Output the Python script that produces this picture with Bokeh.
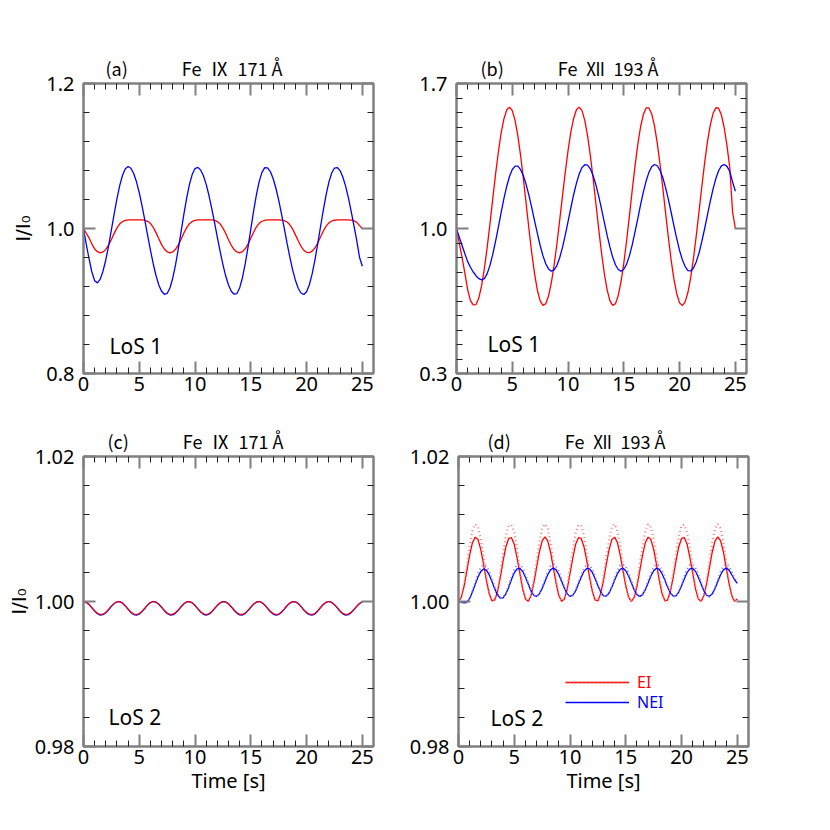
from bokeh.plotting import figure
from bokeh.models import (Range1d, LinearAxis, FixedTicker, PrintfTickFormatter,
                          Label, Legend, LegendItem)
from bokeh.layouts import column, row
from bokeh.embed import file_html
from bokeh.resources import INLINE

# ---------------- data ----------------
time_s = [0, 0.25, 0.5, 0.75, 1, 1.25, 1.5, 1.75, 2, 2.25,
          2.5, 2.75, 3, 3.25, 3.5, 3.75, 4, 4.25, 4.5, 4.75,
          5, 5.25, 5.5, 5.75, 6, 6.25, 6.5, 6.75, 7, 7.25,
          7.5, 7.75, 8, 8.25, 8.5, 8.75, 9, 9.25, 9.5, 9.75,
          10, 10.25, 10.5, 10.75, 11, 11.25, 11.5, 11.75, 12, 12.25,
          12.5, 12.75, 13, 13.25, 13.5, 13.75, 14, 14.25, 14.5, 14.75,
          15, 15.25, 15.5, 15.75, 16, 16.25, 16.5, 16.75, 17, 17.25,
          17.5, 17.75, 18, 18.25, 18.5, 18.75, 19, 19.25, 19.5, 19.75,
          20, 20.25, 20.5, 20.75, 21, 21.25, 21.5, 21.75, 22, 22.25,
          22.5, 22.75, 23, 23.25, 23.5, 23.75, 24, 24.25, 24.5, 24.75,
          25]

# (a) Fe IX 171, LoS 1
ei_a = [1.0000, 0.9935, 0.9870, 0.9785, 0.9718, 0.9680, 0.9665, 0.9677, 0.9712, 0.9770,
        0.9848, 0.9933, 1.0009, 1.0065, 1.0096, 1.0111, 1.0118, 1.0120, 1.0120, 1.0120,
        1.0120, 1.0118, 1.0112, 1.0099, 1.0070, 1.0017, 0.9943, 0.9858, 0.9778, 0.9717,
        0.9679, 0.9665, 0.9677, 0.9713, 0.9773, 0.9852, 0.9937, 1.0012, 1.0066, 1.0097,
        1.0111, 1.0118, 1.0120, 1.0120, 1.0120, 1.0120, 1.0118, 1.0111, 1.0095, 1.0063,
        1.0006, 0.9930, 0.9845, 0.9768, 0.9710, 0.9676, 0.9665, 0.9681, 0.9720, 0.9784,
        0.9865, 0.9949, 1.0022, 1.0072, 1.0100, 1.0113, 1.0118, 1.0120, 1.0120, 1.0120,
        1.0119, 1.0116, 1.0108, 1.0090, 1.0052, 0.9992, 0.9912, 0.9830, 0.9755, 0.9700,
        0.9671, 0.9666, 0.9688, 0.9731, 0.9800, 0.9882, 0.9965, 1.0032, 1.0078, 1.0103,
        1.0114, 1.0119, 1.0120, 1.0120, 1.0120, 1.0119, 1.0116, 1.0107, 1.0085, 1.0040,
        1.0000]
nei_a = [1.0000, 0.9780, 0.9580, 0.9400, 0.9280, 0.9250, 0.9302, 0.9411, 0.9569, 0.9762,
         0.9980, 1.0201, 1.0412, 1.0594, 1.0735, 1.0824, 1.0855, 1.0831, 1.0759, 1.0644,
         1.0493, 1.0313, 1.0113, 0.9906, 0.9703, 0.9514, 0.9352, 0.9222, 0.9135, 0.9093,
         0.9104, 0.9179, 0.9314, 0.9498, 0.9718, 0.9958, 1.0197, 1.0420, 1.0608, 1.0747,
         1.0827, 1.0843, 1.0807, 1.0727, 1.0608, 1.0455, 1.0275, 1.0080, 0.9879, 0.9683,
         0.9502, 0.9344, 0.9220, 0.9135, 0.9094, 0.9103, 0.9180, 0.9321, 0.9515, 0.9744,
         0.9992, 1.0239, 1.0463, 1.0647, 1.0775, 1.0839, 1.0836, 1.0785, 1.0690, 1.0555,
         1.0390, 1.0201, 1.0001, 0.9797, 0.9604, 0.9430, 0.9285, 0.9176, 0.9110, 0.9090,
         0.9127, 0.9224, 0.9374, 0.9568, 0.9789, 1.0024, 1.0254, 1.0465, 1.0639, 1.0765,
         1.0834, 1.0841, 1.0799, 1.0711, 1.0584, 1.0422, 1.0236, 1.0036, 0.9833, 0.9600,
         0.9480]

# (b) Fe XII 193, LoS 1
ei_b = [1.000, 0.930, 0.860, 0.785, 0.705, 0.652, 0.631, 0.633, 0.664, 0.724,
        0.807, 0.909, 1.023, 1.143, 1.261, 1.368, 1.460, 1.529, 1.572, 1.586,
        1.569, 1.522, 1.447, 1.351, 1.238, 1.117, 0.995, 0.880, 0.781, 0.702,
        0.651, 0.629, 0.637, 0.674, 0.737, 0.823, 0.925, 1.039, 1.156, 1.271,
        1.376, 1.465, 1.531, 1.573, 1.586, 1.569, 1.522, 1.448, 1.352, 1.240,
        1.119, 0.998, 0.883, 0.784, 0.705, 0.652, 0.629, 0.637, 0.676, 0.743,
        0.833, 0.941, 1.060, 1.183, 1.300, 1.405, 1.490, 1.550, 1.582, 1.582,
        1.553, 1.495, 1.412, 1.309, 1.194, 1.073, 0.954, 0.845, 0.753, 0.684,
        0.641, 0.628, 0.646, 0.692, 0.764, 0.858, 0.967, 1.085, 1.205, 1.319,
        1.419, 1.499, 1.555, 1.583, 1.581, 1.548, 1.486, 1.400, 1.294, 1.080,
        1.000]
nei_b = [1.000, 0.958, 0.918, 0.878, 0.840, 0.813, 0.790, 0.772, 0.758, 0.752,
         0.758, 0.782, 0.822, 0.875, 0.938, 1.006, 1.077, 1.144, 1.203, 1.251,
         1.285, 1.301, 1.301, 1.284, 1.254, 1.211, 1.159, 1.100, 1.037, 0.976,
         0.918, 0.869, 0.830, 0.805, 0.794, 0.800, 0.821, 0.859, 0.908, 0.968,
         1.033, 1.099, 1.163, 1.218, 1.263, 1.294, 1.308, 1.306, 1.288, 1.255,
         1.211, 1.156, 1.095, 1.031, 0.968, 0.911, 0.862, 0.825, 0.802, 0.794,
         0.803, 0.828, 0.868, 0.920, 0.982, 1.047, 1.114, 1.176, 1.229, 1.271,
         1.298, 1.309, 1.303, 1.281, 1.245, 1.196, 1.139, 1.076, 1.012, 0.950,
         0.894, 0.849, 0.816, 0.797, 0.795, 0.809, 0.840, 0.883, 0.939, 1.000,
         1.066, 1.131, 1.190, 1.241, 1.279, 1.302, 1.309, 1.300, 1.275, 1.225,
         1.180]

# (c) Fe IX 171, LoS 2
ei_c = [1.00000, 0.99989, 0.99959, 0.99916, 0.99873, 0.99838, 0.99821, 0.99826, 0.99851, 0.99891,
        0.99936, 0.99974, 0.99996, 0.99998, 0.99978, 0.99941, 0.99897, 0.99856, 0.99828, 0.99820,
        0.99834, 0.99867, 0.99910, 0.99953, 0.99986, 1.00000, 0.99992, 0.99964, 0.99922, 0.99878,
        0.99842, 0.99822, 0.99824, 0.99847, 0.99885, 0.99930, 0.99969, 0.99995, 0.99999, 0.99982,
        0.99947, 0.99903, 0.99861, 0.99830, 0.99820, 0.99832, 0.99862, 0.99906, 0.99948, 0.99982,
        0.99999, 0.99994, 0.99968, 0.99928, 0.99884, 0.99846, 0.99823, 0.99822, 0.99843, 0.99880,
        0.99924, 0.99965, 0.99992, 1.00000, 0.99985, 0.99952, 0.99909, 0.99865, 0.99834, 0.99820,
        0.99827, 0.99857, 0.99898, 0.99943, 0.99979, 0.99998, 0.99996, 0.99972, 0.99932, 0.99886,
        0.99850, 0.99826, 0.99820, 0.99835, 0.99874, 0.99919, 0.99961, 0.99989, 1.00000, 0.99988,
        0.99957, 0.99915, 0.99871, 0.99837, 0.99821, 0.99827, 0.99852, 0.99892, 0.99936, 0.99974,
        0.99997]
nei_c = [1.00000, 0.99988, 0.99957, 0.99913, 0.99867, 0.99831, 0.99813, 0.99818, 0.99845, 0.99886,
         0.99933, 0.99973, 0.99996, 0.99998, 0.99977, 0.99939, 0.99892, 0.99849, 0.99820, 0.99812,
         0.99827, 0.99861, 0.99906, 0.99951, 0.99985, 1.00000, 0.99991, 0.99962, 0.99919, 0.99873,
         0.99835, 0.99814, 0.99816, 0.99840, 0.99880, 0.99927, 0.99968, 0.99994, 0.99999, 0.99981,
         0.99944, 0.99899, 0.99855, 0.99823, 0.99812, 0.99825, 0.99856, 0.99902, 0.99946, 0.99982,
         0.99999, 0.99994, 0.99967, 0.99925, 0.99879, 0.99839, 0.99816, 0.99814, 0.99836, 0.99874,
         0.99920, 0.99963, 0.99992, 1.00000, 0.99984, 0.99950, 0.99905, 0.99859, 0.99826, 0.99812,
         0.99819, 0.99851, 0.99894, 0.99941, 0.99978, 0.99998, 0.99996, 0.99971, 0.99929, 0.99881,
         0.99843, 0.99818, 0.99812, 0.99828, 0.99868, 0.99916, 0.99959, 0.99989, 1.00000, 0.99987,
         0.99956, 0.99911, 0.99865, 0.99830, 0.99813, 0.99819, 0.99846, 0.99887, 0.99933, 0.99973,
         0.99997]

# (d) Fe XII 193, LoS 2
ei_d = [1.00000, 1.00056, 1.00210, 1.00422, 1.00641, 1.00811, 1.00888, 1.00854, 1.00716, 1.00513,
        1.00290, 1.00107, 1.00009, 1.00020, 1.00138, 1.00333, 1.00559, 1.00756, 1.00870, 1.00880,
        1.00789, 1.00603, 1.00388, 1.00173, 1.00036, 1.00002, 1.00079, 1.00249, 1.00468, 1.00683,
        1.00837, 1.00890, 1.00837, 1.00683, 1.00468, 1.00249, 1.00079, 1.00002, 1.00036, 1.00173,
        1.00388, 1.00603, 1.00789, 1.00880, 1.00870, 1.00756, 1.00559, 1.00333, 1.00138, 1.00020,
        1.00009, 1.00107, 1.00290, 1.00513, 1.00716, 1.00854, 1.00888, 1.00811, 1.00641, 1.00422,
        1.00210, 1.00056, 1.00000, 1.00056, 1.00210, 1.00422, 1.00641, 1.00811, 1.00888, 1.00854,
        1.00716, 1.00513, 1.00290, 1.00107, 1.00009, 1.00020, 1.00138, 1.00333, 1.00559, 1.00756,
        1.00870, 1.00880, 1.00789, 1.00603, 1.00388, 1.00173, 1.00036, 1.00002, 1.00079, 1.00249,
        1.00468, 1.00683, 1.00837, 1.00890, 1.00837, 1.00683, 1.00468, 1.00249, 1.00079, 1.00002,
        1.00036]
ei_d_dot = [1.00000, 1.00067, 1.00252, 1.00508, 1.00771, 1.00974, 1.01067, 1.01026, 1.00861, 1.00616,
            1.00349, 1.00128, 1.00011, 1.00025, 1.00166, 1.00401, 1.00672, 1.00908, 1.01045, 1.01058,
            1.00949, 1.00725, 1.00467, 1.00209, 1.00043, 1.00003, 1.00095, 1.00300, 1.00563, 1.00821,
            1.01006, 1.01070, 1.01006, 1.00821, 1.00563, 1.00300, 1.00095, 1.00003, 1.00043, 1.00209,
            1.00467, 1.00725, 1.00949, 1.01058, 1.01045, 1.00908, 1.00672, 1.00401, 1.00166, 1.00025,
            1.00011, 1.00128, 1.00349, 1.00616, 1.00861, 1.01026, 1.01067, 1.00974, 1.00771, 1.00508,
            1.00252, 1.00067, 1.00000, 1.00067, 1.00252, 1.00508, 1.00771, 1.00974, 1.01067, 1.01026,
            1.00861, 1.00616, 1.00349, 1.00128, 1.00011, 1.00025, 1.00166, 1.00401, 1.00672, 1.00908,
            1.01045, 1.01058, 1.00949, 1.00725, 1.00467, 1.00209, 1.00043, 1.00003, 1.00095, 1.00300,
            1.00563, 1.00821, 1.01006, 1.01070, 1.01006, 1.00821, 1.00563, 1.00300, 1.00095, 1.00003,
            1.00043]
nei_d = [1.00000, 0.99990, 0.99982, 0.99989, 1.00041, 1.00130, 1.00236, 1.00338, 1.00415, 1.00449,
         1.00433, 1.00370, 1.00276, 1.00174, 1.00089, 1.00047, 1.00050, 1.00105, 1.00197, 1.00303,
         1.00395, 1.00450, 1.00456, 1.00416, 1.00334, 1.00240, 1.00146, 1.00086, 1.00071, 1.00105,
         1.00179, 1.00275, 1.00369, 1.00437, 1.00460, 1.00437, 1.00369, 1.00275, 1.00179, 1.00105,
         1.00071, 1.00086, 1.00146, 1.00240, 1.00334, 1.00416, 1.00456, 1.00451, 1.00401, 1.00315,
         1.00216, 1.00130, 1.00079, 1.00074, 1.00117, 1.00197, 1.00295, 1.00384, 1.00444, 1.00459,
         1.00425, 1.00351, 1.00255, 1.00162, 1.00094, 1.00070, 1.00094, 1.00162, 1.00255, 1.00351,
         1.00425, 1.00459, 1.00444, 1.00384, 1.00295, 1.00197, 1.00117, 1.00074, 1.00079, 1.00130,
         1.00216, 1.00315, 1.00401, 1.00451, 1.00456, 1.00416, 1.00334, 1.00240, 1.00146, 1.00086,
         1.00071, 1.00105, 1.00179, 1.00275, 1.00369, 1.00437, 1.00460, 1.00437, 1.00369, 1.00300,
         1.00250]
nei_d_dot = [1.00000, 0.99989, 0.99980, 0.99988, 1.00046, 1.00147, 1.00267, 1.00382, 1.00469, 1.00507,
             1.00489, 1.00418, 1.00312, 1.00197, 1.00101, 1.00053, 1.00057, 1.00119, 1.00223, 1.00342,
             1.00446, 1.00509, 1.00510, 1.00464, 1.00370, 1.00261, 1.00153, 1.00083, 1.00066, 1.00105,
             1.00191, 1.00302, 1.00410, 1.00488, 1.00515, 1.00488, 1.00410, 1.00302, 1.00191, 1.00105,
             1.00066, 1.00083, 1.00153, 1.00261, 1.00370, 1.00464, 1.00510, 1.00505, 1.00447, 1.00347,
             1.00234, 1.00135, 1.00075, 1.00070, 1.00119, 1.00212, 1.00324, 1.00427, 1.00497, 1.00514,
             1.00475, 1.00389, 1.00279, 1.00171, 1.00093, 1.00065, 1.00093, 1.00171, 1.00279, 1.00389,
             1.00475, 1.00514, 1.00497, 1.00427, 1.00324, 1.00212, 1.00119, 1.00070, 1.00075, 1.00135,
             1.00234, 1.00347, 1.00447, 1.00505, 1.00510, 1.00464, 1.00370, 1.00261, 1.00153, 1.00083,
             1.00066, 1.00105, 1.00191, 1.00302, 1.00410, 1.00488, 1.00515, 1.00488, 1.00410, 1.00320,
             1.00260]

# tick positions / labels
x_major = [0, 5, 10, 15, 20, 25]
x_minor = [1, 2, 3, 4, 6, 7, 8, 9, 11, 12, 13, 14, 16, 17, 18, 19, 21, 22, 23, 24, 26]
y_major_a = [0.8, 1.0, 1.2]
y_minor_a = [0.84, 0.88, 0.92, 0.96, 1.04, 1.08, 1.12, 1.16]
y_major_b = [0.3, 1.0, 1.7]
y_minor_b = [0.37, 0.44, 0.51, 0.58, 0.65, 0.72, 0.79, 0.86, 0.93,
             1.07, 1.14, 1.21, 1.28, 1.35, 1.42, 1.49, 1.56, 1.63]
y_major_cd = [0.98, 1.00, 1.02]
y_minor_cd = [0.984, 0.988, 0.992, 0.996, 1.004, 1.008, 1.012, 1.016]

panel_tags = ["(a)", "(b)", "(c)", "(d)"]
line_names = ["Fe\u2002\u2168\u2002171 Å", "Fe\u2002\u216B\u2002193 Å"]
los_names = ["LoS 1", "LoS 2"]
series_names = ["EI", "NEI"]

# ---------------- style ----------------
FONT = "Noto Sans"
TFONT = "Noto Sans CJK JP"
GRAY = "#808080"
RED = "#ff0000"
BLUE = "#0000ff"
RED_DOT = "#ff7878"
BLUE_DOT = "#7878ff"
GAP = "\u3000\u3000\u3000"


def make_panel(ylim, ymaj, ymin, fmt, borders, head, head_dx, ylabel=None, ylab_off=8,
               xlabel=None):
    l, r, t, b = borders
    p = figure(frame_width=290, frame_height=290,
               x_range=Range1d(0, 26), y_range=Range1d(*ylim),
               output_backend="svg", toolbar_location=None, tools="",
               min_border_left=l, min_border_right=r,
               min_border_top=t, min_border_bottom=b,
               background_fill_color="white", border_fill_color="white")
    p.title.text = head
    p.title.text_font = TFONT
    p.title.text_font_size = "18px"
    p.title.text_font_style = "normal"
    p.title.text_color = "black"
    p.title.align = "left"
    p.title.offset = head_dx
    p.title.standoff = 5
    p.grid.visible = False
    p.outline_line_color = GRAY
    p.outline_line_width = 2
    ax_r = LinearAxis()
    ax_t = LinearAxis()
    p.add_layout(ax_r, "right")
    p.add_layout(ax_t, "above")
    for ax in p.xaxis:
        ax.ticker = FixedTicker(ticks=x_major, minor_ticks=x_minor)
    for ax in p.yaxis:
        ax.ticker = FixedTicker(ticks=ymaj, minor_ticks=ymin)
        ax.formatter = PrintfTickFormatter(format=fmt)
    for ax in p.axis:
        ax.axis_line_color = GRAY
        ax.axis_line_width = 2
        ax.major_tick_line_color = GRAY
        ax.major_tick_line_width = 2
        ax.major_tick_in = 12
        ax.major_tick_out = 0
        ax.minor_tick_line_color = "#202020"
        ax.minor_tick_line_width = 1
        ax.minor_tick_in = 6
        ax.minor_tick_out = 0
        ax.major_label_text_font = FONT
        ax.major_label_text_font_size = "20px"
        ax.major_label_text_color = "black"
    for ax in (ax_r, ax_t):
        ax.major_label_text_color = None
        ax.major_label_text_font_size = "1px"
        ax.major_label_standoff = 0
    ax_t.major_label_standoff = 4
    left = p.left[0]
    left.major_label_standoff = 9
    bottom = p.below[0]
    bottom.major_label_standoff = 3
    if ylabel:
        left.axis_label = ylabel
        left.axis_label_text_font = "DejaVu Sans"
        left.axis_label_text_font_size = "20px"
        left.axis_label_text_font_style = "normal"
        left.axis_label_text_color = "black"
        left.axis_label_standoff = ylab_off
    if xlabel:
        bottom.axis_label = xlabel
        bottom.axis_label_text_font = FONT
        bottom.axis_label_text_font_size = "20px"
        bottom.axis_label_text_font_style = "normal"
        bottom.axis_label_text_color = "black"
        bottom.axis_label_standoff = 0
    return p


def add_los(p, ybot, text, dx, dy):
    p.add_layout(Label(x=0, y=ybot, x_offset=dx, y_offset=dy, text=text,
                       text_font=FONT, text_font_size="21px", text_color="black",
                       text_baseline="middle", text_align="left"))


YLAB = "I/I\u2080"

# (a)
pa = make_panel((0.8, 1.2), y_major_a, y_minor_a, "%.1f", (83, 33, 83, 40),
                panel_tags[0] + GAP + line_names[0], 22, ylabel=YLAB, ylab_off=8)
pa.line(time_s, ei_a, line_color=RED, line_width=1.3)
pa.line(time_s, nei_a, line_color=BLUE, line_width=1.3)
add_los(pa, 0.8, los_names[0], 26, 28)

# (b)
pb = make_panel((0.3, 1.7), y_major_b, y_minor_b, "%.1f", (50, 20, 83, 40),
                panel_tags[1] + GAP + line_names[1], 24)
pb.line(time_s, ei_b, line_color=RED, line_width=1.3)
pb.line(time_s, nei_b, line_color=BLUE, line_width=1.3)
add_los(pb, 0.3, los_names[0], 31, 30)

# (c)
pc = make_panel((0.98, 1.02), y_major_cd, y_minor_cd, "%.2f", (83, 33, 43, 50),
                panel_tags[2] + GAP + line_names[0], 24, ylabel=YLAB, ylab_off=1,
                xlabel="Time [s]")
pc.line(time_s, nei_c, line_color=BLUE, line_width=1.3)
pc.line(time_s, ei_c, line_color=RED, line_width=1.1)
add_los(pc, 0.98, los_names[1], 25, 30)

# (d)
pd = make_panel((0.98, 1.02), y_major_cd, y_minor_cd, "%.2f", (50, 20, 43, 50),
                panel_tags[3] + GAP + line_names[1], 29, xlabel="Time [s]")
r_ei = pd.line(time_s, ei_d, line_color=RED, line_width=1.3)
r_ei_dot = pd.line(time_s, ei_d_dot, line_color=RED_DOT, line_width=2, line_dash="1 3")
r_nei = pd.line(time_s, nei_d, line_color=BLUE, line_width=1.3)
r_nei_dot = pd.line(time_s, nei_d_dot, line_color=BLUE_DOT, line_width=2, line_dash="1 3")
add_los(pd, 0.98, los_names[1], 32, 29)

leg_common = dict(padding=0, margin=0, spacing=0, border_line_color=None,
                  background_fill_alpha=0, glyph_width=64, glyph_height=20,
                  label_height=20, label_standoff=8, label_text_font=FONT,
                  label_text_font_size="16px")
leg_ei = Legend(items=[LegendItem(label=series_names[0], renderers=[r_ei, r_ei_dot])],
                location=(107, 53), label_text_color=RED, **leg_common)
leg_nei = Legend(items=[LegendItem(label=series_names[1], renderers=[r_nei])],
                 location=(107, 33), label_text_color=BLUE, **leg_common)
pd.add_layout(leg_ei)
pd.add_layout(leg_nei)

layout = column(row(pa, pb), row(pc, pd))
open("out.html", "w").write(file_html(layout, INLINE))
